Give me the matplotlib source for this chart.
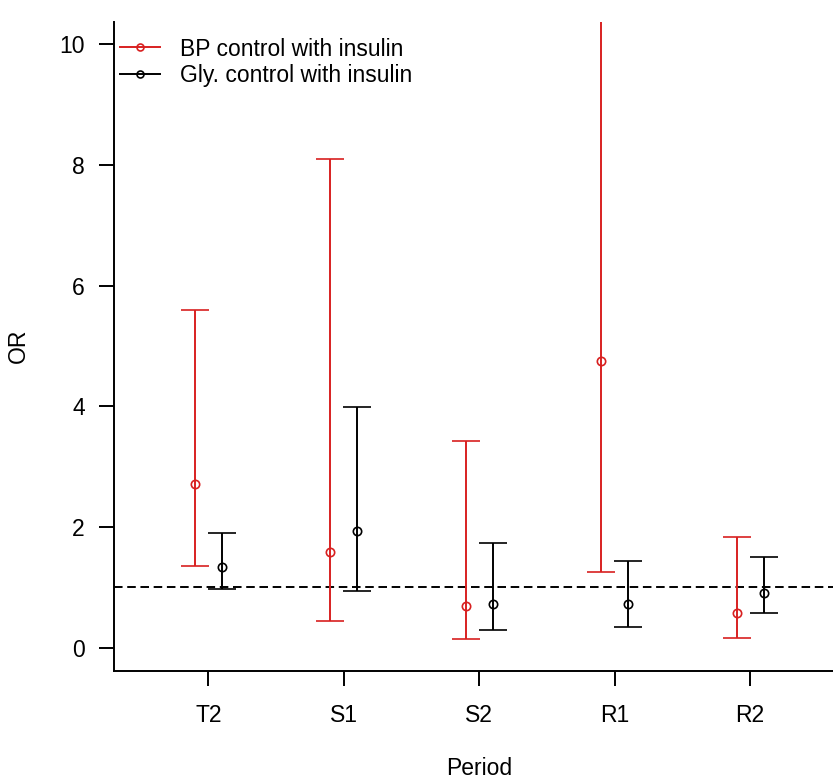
import matplotlib
matplotlib.use("Agg")
import matplotlib.pyplot as plt
from matplotlib.lines import Line2D
import numpy as np

plt.rcParams['font.family'] = ['Liberation Sans', 'DejaVu Sans']

periods = ["T2", "S1", "S2", "R1", "R2"]

# odds ratios with 95% CI, BP control with insulin
bp_or = [2.71, 1.59, 0.69, 4.75, 0.57]
bp_lo = [1.35, 0.45, 0.14, 1.25, 0.17]
bp_hi = [5.59, 8.10, 3.42, 14.0, 1.84]

# glycaemic control with insulin
gly_or = [1.34, 1.94, 0.72, 0.72, 0.91]
gly_lo = [0.98, 0.94, 0.29, 0.35, 0.57]
gly_hi = [1.90, 3.98, 1.74, 1.43, 1.50]

red = '#d82020'
fs = 16.5

fig = plt.figure(figsize=(8.33, 7.81), dpi=100)
ax = fig.add_axes([0.1365, 0.1412, 0.8777, 0.8310])

x = np.arange(1, len(periods) + 1)

def draw(xs, est, lo, hi, col):
    est = np.array(est)
    err = [est - np.array(lo), np.array(hi) - est]
    ax.errorbar(xs, est, yerr=err, fmt='o', color=col, ecolor=col,
                mfc='none', mec=col, ms=6, mew=1.2, elinewidth=1.4,
                capsize=10, capthick=1.4, zorder=3)

draw(x - 0.1, bp_or, bp_lo, bp_hi, red)
draw(x + 0.1, gly_or, gly_lo, gly_hi, 'black')

ax.axhline(1, color='black', lw=1.4, linestyle=(0, (4.4, 2.4)), zorder=2)

ax.set_xlim(0.3, 5.7)
ax.set_ylim(-0.38, 10.37)
ax.set_xticks(x)
ax.set_xticklabels(periods)
ax.set_yticks([0, 2, 4, 6, 8, 10])

for s in ['top', 'right']:
    ax.spines[s].set_visible(False)
for s in ['left', 'bottom']:
    ax.spines[s].set_linewidth(1.4)

ax.tick_params(direction='out', length=10.8, width=1.4, labelsize=fs,
               colors='black')
ax.tick_params(axis='y', pad=10)
ax.tick_params(axis='x', pad=13)

ax.set_xlabel('Period', fontsize=fs)
ax.set_ylabel('OR', fontsize=fs)
ax.xaxis.set_label_coords(0.5, -0.133)
ax.yaxis.set_label_coords(-0.1146, 0.5)

handles = [
    Line2D([], [], color=red, marker='o', mfc='none', ms=5, mew=1.2, lw=1.4),
    Line2D([], [], color='black', marker='o', mfc='none', ms=5, mew=1.2, lw=1.4),
]
ax.legend(handles, ['BP control with insulin', 'Gly. control with insulin'],
          loc='upper left', bbox_to_anchor=(120 / 833, 1 - 37.5 / 781),
          bbox_transform=fig.transFigure, frameon=False, fontsize=fs,
          handlelength=1.75, handletextpad=0.87, labelspacing=0.15,
          borderpad=0, borderaxespad=0)

fig.savefig('out.png', dpi=100)
